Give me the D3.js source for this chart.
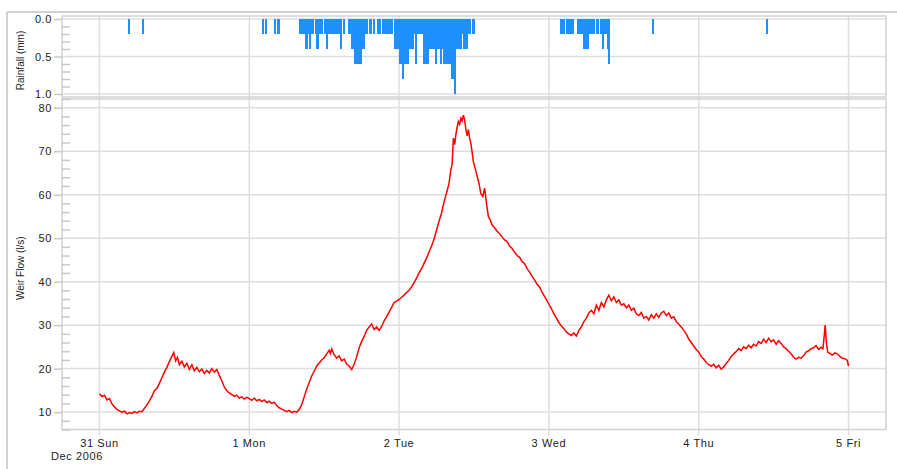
<!DOCTYPE html>
<html>
<head>
<meta charset="utf-8">
<script src="https://cdn.jsdelivr.net/npm/d3@7"></script>
<style>
  body { margin: 0; background: #fff; }
  svg { display: block; }
  text { font-family: "Liberation Sans", Arial, sans-serif; fill: #222; }
</style>
</head>
<body>
<svg id="chart" width="897" height="469"></svg>
<script>
// Hour offsets are counted from 31 Dec 2006 00:00.
const startDate = Date.UTC(2006, 11, 31);

// Rainfall totals in 15-minute bins (start hour, mm).
const rainHours = [4.5, 6.75, 26.0, 26.5, 28.0, 28.5,
  32.0, 32.25, 32.5, 32.75, 33.0, 33.25, 33.5, 33.75, 34.0,
  34.5, 34.75, 35.0, 35.25, 35.5,
  36.0, 36.25, 36.5, 36.75, 37.0, 37.25, 37.5, 37.75, 38.0, 38.25, 38.5,
  39.0, 39.75, 40.0, 40.25, 40.5, 40.75, 41.0, 41.25, 41.5, 41.75, 42.0, 42.25, 42.5, 42.75,
  43.25, 43.75, 44.5, 44.75,
  45.25, 45.5, 45.75, 46.0, 46.25, 46.5, 46.75,
  47.25, 47.5, 47.75, 48.0, 48.25, 48.5, 48.75, 49.0, 49.25, 49.5, 49.75, 50.0,
  50.25, 50.5, 50.75, 51.0, 51.25, 51.5, 51.75, 52.0, 52.25, 52.5, 52.75, 53.0,
  53.25, 53.5, 53.75, 54.0, 54.25, 54.5, 54.75, 55.0, 55.25, 55.5, 55.75, 56.0,
  56.25, 56.5, 56.75, 57.0, 57.25, 57.5, 57.75, 58.0, 58.25, 58.5, 58.75, 59.0, 59.25,
  59.75,
  73.75, 74.0, 74.25, 74.75, 75.0, 75.25, 75.5, 75.75,
  76.5, 76.75, 77.0, 77.25, 77.5, 77.75, 78.0, 78.25, 78.5, 78.75, 79.0,
  79.5, 79.75, 80.25, 80.5, 80.75, 81.0, 81.25, 81.5,
  88.5, 106.75];
const rainMm = [0.2, 0.2, 0.2, 0.2, 0.2, 0.2,
  0.2, 0.2, 0.2, 0.2, 0.4, 0.2, 0.4, 0.2, 0.2,
  0.2, 0.4, 0.2, 0.2, 0.2,
  0.2, 0.4, 0.2, 0.2, 0.2, 0.2, 0.2, 0.2, 0.2, 0.2, 0.4,
  0.2, 0.2, 0.2, 0.4, 0.4, 0.6, 0.6, 0.6, 0.6, 0.6, 0.4, 0.4, 0.2, 0.2,
  0.2, 0.2, 0.2, 0.2,
  0.2, 0.2, 0.2, 0.2, 0.2, 0.2, 0.2,
  0.4, 0.4, 0.4, 0.6, 0.6, 0.8, 0.6, 0.6, 0.6, 0.4, 0.4, 0.4,
  0.2, 0.6, 0.2, 0.2, 0.2, 0.2, 0.6, 0.6, 0.6, 0.6, 0.4, 0.4,
  0.4, 0.4, 0.6, 0.4, 0.4, 0.6, 0.4, 0.6, 0.6, 0.6, 0.6, 0.6,
  0.8, 0.8, 1.0, 0.4, 0.4, 0.4, 0.4, 0.2, 0.4, 0.4, 0.4, 0.2, 0.2,
  0.2,
  0.2, 0.2, 0.2, 0.2, 0.2, 0.2, 0.2, 0.2,
  0.2, 0.2, 0.2, 0.2, 0.4, 0.4, 0.4, 0.2, 0.2, 0.2, 0.2,
  0.2, 0.2, 0.2, 0.4, 0.2, 0.2, 0.4, 0.6,
  0.2, 0.2];

// Weir flow readings (hour, l/s).
const flowHours = [
  0.0, 0.4, 0.8, 1.2, 1.6, 2.0, 2.4, 2.8, 3.2, 3.6, 4.0, 4.4, 4.8, 5.2, 5.6, 6.0, 6.4, 6.8,
  7.2, 7.6, 8.0, 8.4, 8.8, 9.2, 9.6, 10.0, 10.4, 10.8, 11.2, 11.6, 11.9, 12.2, 12.5, 12.8,
  13.2, 13.6, 14.0, 14.4, 14.8, 15.2, 15.6, 16.0, 16.4, 16.8, 17.2, 17.6, 18.0, 18.4, 18.8,
  19.2, 19.6, 20.0, 20.4, 20.8, 21.2, 21.6, 22.0, 22.4, 22.8, 23.2, 23.6, 24.0,
  24.4, 24.8, 25.2, 25.6, 26.0, 26.4, 26.8, 27.2, 27.6, 28.0, 28.4, 28.8, 29.2, 29.6, 30.0,
  30.4, 30.8, 31.2, 31.6, 32.0, 32.4, 32.8, 33.2, 33.6, 34.0, 34.4, 34.8, 35.2, 35.6, 36.0,
  36.4, 36.8, 37.0, 37.2, 37.6, 38.0, 38.4, 38.8, 39.2, 39.6, 40.0, 40.4, 40.8, 41.2, 41.6,
  42.0, 42.4, 42.8, 43.2, 43.6, 44.0, 44.4, 44.8, 45.2, 45.6, 46.0, 46.4, 46.8, 47.2, 47.6, 48.0,
  48.4, 48.8, 49.2, 49.6, 50.0, 50.4, 50.8, 51.2, 51.6, 52.0, 52.4, 52.8, 53.2, 53.6, 54.0,
  54.4, 54.8, 55.2, 55.6, 56.0, 56.3, 56.5, 56.7, 56.9, 57.1, 57.3, 57.5, 57.7, 57.9, 58.1,
  58.3, 58.5, 58.7, 58.9, 59.1, 59.3, 59.5, 59.7, 59.9, 60.2, 60.5, 60.8, 61.1, 61.4, 61.7,
  62.0, 62.3, 62.6, 62.9, 63.3, 63.7, 64.1, 64.5, 64.9, 65.3, 65.7, 66.1, 66.5, 66.9, 67.3,
  67.7, 68.1, 68.5, 68.9, 69.3, 69.7, 70.1, 70.5, 70.9, 71.3, 71.7, 72.0,
  72.4, 72.8, 73.2, 73.6, 74.0, 74.4, 74.8, 75.2, 75.6, 76.0, 76.4, 76.8, 77.2, 77.6, 78.0,
  78.4, 78.8, 79.2, 79.6, 80.0, 80.4, 80.8, 81.2, 81.6, 82.0, 82.4, 82.8, 83.2, 83.6, 84.0,
  84.4, 84.8, 85.2, 85.6, 86.0, 86.4, 86.8, 87.2, 87.6, 88.0, 88.4, 88.8, 89.2, 89.6, 90.0,
  90.4, 90.8, 91.2, 91.6, 92.0, 92.4, 92.8, 93.2, 93.6, 94.0, 94.4, 94.8, 95.2, 95.6, 96.0,
  96.4, 96.8, 97.2, 97.6, 98.0, 98.4, 98.8, 99.2, 99.6, 100.0, 100.4, 100.8, 101.2, 101.6,
  102.0, 102.4, 102.8, 103.2, 103.6, 104.0, 104.4, 104.8, 105.2, 105.6, 106.0, 106.4, 106.8,
  107.2, 107.6, 108.0, 108.4, 108.8, 109.2, 109.6, 110.0, 110.4, 110.8, 111.2, 111.6, 112.0,
  112.4, 112.8, 113.2, 113.6, 114.0, 114.4, 114.8, 115.2, 115.6, 115.9, 116.1, 116.25, 116.45,
  116.65, 117.0, 117.4, 117.8, 118.2, 118.6, 119.0, 119.4, 119.8, 120.0];
const flowValues = [
  14.2, 13.6, 13.9, 12.8, 13.1, 11.9, 11.2, 10.6, 10.3, 10.0, 10.2, 9.6, 9.9, 9.7, 10.1, 9.8, 10.2, 10.1,
  10.9, 11.6, 12.6, 13.6, 14.9, 15.5, 16.6, 17.9, 19.2, 20.3, 21.6, 22.8, 23.7, 21.8, 22.6, 20.9,
  21.7, 20.4, 21.2, 19.8, 20.9, 19.5, 20.3, 19.3, 19.9, 18.9, 19.6, 19.0, 20.0, 19.2, 19.8,
  18.4, 17.2, 15.8, 14.9, 14.4, 14.0, 13.6, 13.9, 13.2, 13.5, 13.0, 13.4, 13.1,
  12.7, 13.2, 12.6, 12.9, 12.4, 12.8, 12.2, 12.5, 12.0, 12.3, 11.5, 11.0, 10.7, 10.4, 10.1,
  10.4, 9.9, 10.2, 10.0, 10.6, 11.7, 13.5, 15.3, 16.8, 18.3, 19.4, 20.6, 21.3, 22.0, 22.5,
  23.4, 24.2, 23.5, 24.5, 23.2, 22.4, 22.9, 21.8, 22.2, 21.0, 20.6, 19.8, 21.0, 22.7, 24.8,
  26.2, 27.4, 28.8, 29.6, 30.3, 29.0, 29.6, 28.8, 29.7, 31.0, 31.9, 33.0, 34.1, 35.2, 35.5, 35.9,
  36.4, 36.9, 37.5, 38.0, 38.8, 39.8, 40.8, 42.0, 43.0, 44.2, 45.4, 46.8, 48.2, 49.8, 51.8,
  53.9, 55.8, 58.3, 60.4, 62.6, 65.8, 67.0, 73.0, 71.5, 73.8, 75.5, 76.8, 76.2, 77.6, 77.0,
  78.3, 77.2, 75.0, 73.5, 75.0, 73.0, 71.8, 69.8, 67.6, 66.0, 64.3, 62.6, 60.2, 59.6, 61.5,
  58.0, 55.0, 54.2, 53.0, 52.4, 51.6, 51.0, 50.3, 49.6, 49.2, 48.2, 47.6, 46.8, 46.0, 45.6,
  44.6, 44.2, 43.0, 42.2, 41.2, 40.4, 39.4, 38.8, 37.6, 36.6, 35.6, 34.8,
  33.8, 32.6, 31.6, 30.6, 29.8, 29.2, 28.4, 28.0, 27.6, 28.2, 27.5, 28.8, 29.6, 30.8, 31.6,
  32.8, 33.4, 32.6, 34.6, 33.4, 35.2, 34.2, 35.8, 36.9, 35.6, 36.5, 35.2, 35.8, 34.6, 34.9,
  34.0, 34.6, 33.4, 33.9, 32.6, 32.2, 32.9, 31.6, 32.0, 31.2, 32.4, 31.6, 32.6, 31.8, 32.8,
  33.2, 32.2, 32.8, 31.6, 31.9, 30.8, 30.2, 29.6, 28.8, 28.0, 26.8, 26.0, 25.2, 24.4, 23.8,
  22.8, 22.2, 21.4, 20.9, 20.6, 21.0, 20.2, 20.8, 19.9, 20.4, 21.2, 21.9, 22.8, 23.4,
  23.9, 24.6, 24.2, 25.0, 24.6, 25.4, 24.8, 25.6, 25.2, 26.2, 25.8, 26.8, 26.0,
  27.0, 26.2, 26.6, 25.6, 26.4, 25.8, 25.0, 24.6, 24.0, 23.4, 22.6, 22.2, 22.6,
  22.4, 23.0, 23.8, 24.1, 24.6, 24.8, 25.3, 24.4, 24.9, 24.6, 27.5, 30.0, 26.0,
  23.8, 23.5, 23.1, 23.6, 23.4, 22.8, 22.4, 22.3, 21.9, 20.6];

const dayTickHours = [0, 24, 48, 72, 96, 120];
const rainTickValues = [0, 0.5, 1.0];
const flowTickValues = [10, 20, 30, 40, 50, 60, 70, 80];

const toDate = h => new Date(startDate + h * 3600e3);

const svg = d3.select("#chart");
const left = 62, right = 886;
const rainTop = 16, rainBottom = 97;
const flowTop = 99, flowBottom = 429.5;

const x = d3.scaleUtc()
  .domain([toDate(-6), toDate(126)])
  .range([left, right]);
const yRain = d3.scaleLinear().domain([-0.04, 1.04]).range([rainTop, rainBottom]);
const yFlow = d3.scaleLinear().domain([6, 82]).range([flowBottom, flowTop]);

const gridColor = "#dedede";
const frameColor = "#d2d2d2";

// Outer chart border
svg.append("line").attr("x1", 7).attr("x2", 897).attr("y1", 12).attr("y2", 12)
  .attr("stroke", frameColor).attr("stroke-width", 2);
svg.append("line").attr("x1", 7).attr("x2", 7).attr("y1", 12).attr("y2", 469)
  .attr("stroke", frameColor).attr("stroke-width", 2);

// Vertical day gridlines through both panels, extending as tick marks
svg.append("g").selectAll("line").data(dayTickHours).join("line")
  .attr("x1", d => x(toDate(d))).attr("x2", d => x(toDate(d)))
  .attr("y1", rainTop).attr("y2", flowBottom + 6)
  .attr("stroke", gridColor).attr("stroke-width", 1.5);

// Horizontal gridlines
svg.append("g").selectAll("line").data(rainTickValues).join("line")
  .attr("x1", left).attr("x2", right)
  .attr("y1", d => yRain(d)).attr("y2", d => yRain(d))
  .attr("stroke", gridColor).attr("stroke-width", 1.5);
svg.append("g").selectAll("line").data(flowTickValues).join("line")
  .attr("x1", left).attr("x2", right)
  .attr("y1", d => yFlow(d)).attr("y2", d => yFlow(d))
  .attr("stroke", gridColor).attr("stroke-width", 1.5);

// Panel frames
svg.append("rect").attr("x", left).attr("y", rainTop)
  .attr("width", right - left).attr("height", rainBottom - rainTop)
  .attr("fill", "none").attr("stroke", frameColor).attr("stroke-width", 1.5);
svg.append("rect").attr("x", left).attr("y", flowTop)
  .attr("width", right - left).attr("height", flowBottom - flowTop)
  .attr("fill", "none").attr("stroke", frameColor).attr("stroke-width", 1.5);

// Rainfall bars hanging from the top axis; a small overlap keeps adjacent bins seamless
const binMs = 15 * 60e3;
const rain = rainHours.map((h, i) => ({ t: toDate(h), v: rainMm[i] }));
svg.append("g").attr("shape-rendering", "crispEdges")
  .selectAll("rect").data(rain).join("rect")
  .attr("x", d => x(d.t))
  .attr("width", d => x(new Date(+d.t + binMs)) - x(d.t) + 0.6)
  .attr("y", yRain(0))
  .attr("height", d => yRain(d.v) - yRain(0))
  .attr("fill", "#1e90ff");

// Weir flow line
const flow = flowHours.map((h, i) => ({ t: toDate(h), v: flowValues[i] }));
svg.append("path").datum(flow)
  .attr("fill", "none").attr("stroke", "#ff0000").attr("stroke-width", 1.5)
  .attr("stroke-linejoin", "miter")
  .attr("d", d3.line().x(d => x(d.t)).y(d => yFlow(d.v)));

// Y axes: labelled major ticks outside, minor ticks inside
function yAxis(scale, majors, minors, fmt) {
  const g = svg.append("g").attr("transform", `translate(${left},0)`);
  g.call(d3.axisLeft(scale).tickValues(majors).tickSize(8).tickPadding(2).tickFormat(fmt));
  g.append("g").call(d3.axisLeft(scale).tickValues(minors).tickSize(-8).tickFormat(""));
  g.selectAll(".domain").remove();
  g.selectAll("line").attr("stroke", "#c8c8c8").attr("stroke-width", 1.5);
  g.selectAll("text").attr("font-size", 11).attr("letter-spacing", 0.6)
    .attr("fill", "#222").style("font-family", '"Liberation Sans", Arial, sans-serif');
}
yAxis(yRain, rainTickValues, [0.1, 0.2, 0.3, 0.4, 0.6, 0.7, 0.8, 0.9], d3.format(".1f"));
yAxis(yFlow, flowTickValues,
  [6, 8, 12, 14, 16, 18, 22, 24, 26, 28, 32, 34, 36, 38, 42, 44, 46, 48,
   52, 54, 56, 58, 62, 64, 66, 68, 72, 74, 76, 78, 82], d3.format("d"));

// X axis labels
const dayFmt = d3.utcFormat("%-d %a");
svg.append("g").selectAll("text").data(dayTickHours).join("text")
  .attr("x", d => x(toDate(d))).attr("y", 447)
  .attr("text-anchor", "middle").attr("font-size", 11).attr("letter-spacing", 0.6)
  .text(d => dayFmt(toDate(d)));
svg.append("text").attr("x", 51).attr("y", 460)
  .attr("font-size", 11).attr("letter-spacing", 0.6)
  .text(d3.utcFormat("%b %Y")(toDate(dayTickHours[0])));

// Axis titles
svg.append("text").attr("transform", `translate(24,${(rainTop + rainBottom) / 2 + 4}) rotate(-90)`)
  .attr("text-anchor", "middle").attr("font-size", 10).text("Rainfall (mm)");
svg.append("text").attr("transform", `translate(24,${(flowTop + flowBottom) / 2 + 4}) rotate(-90)`)
  .attr("text-anchor", "middle").attr("font-size", 10).text("Weir Flow (l/s)");
</script>
</body>
</html>
